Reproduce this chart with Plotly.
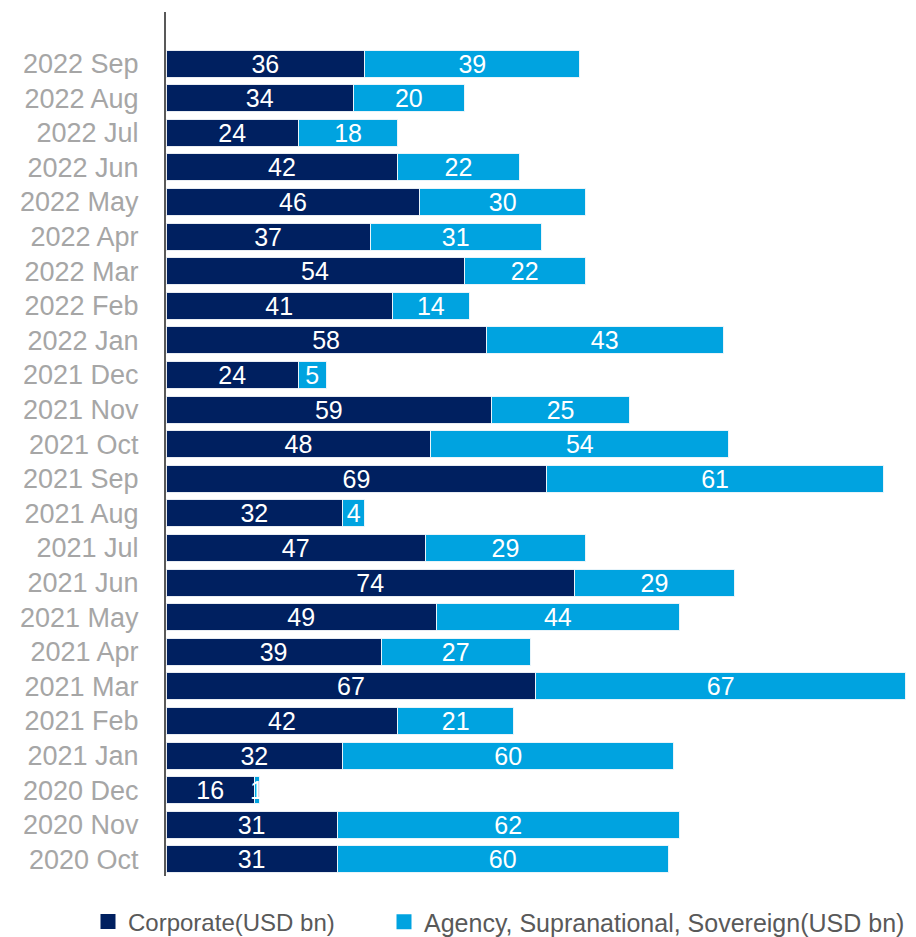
import plotly.graph_objects as go

months = ["2020 Oct", "2020 Nov", "2020 Dec", "2021 Jan", "2021 Feb", "2021 Mar",
          "2021 Apr", "2021 May", "2021 Jun", "2021 Jul", "2021 Aug", "2021 Sep",
          "2021 Oct", "2021 Nov", "2021 Dec", "2022 Jan", "2022 Feb", "2022 Mar",
          "2022 Apr", "2022 May", "2022 Jun", "2022 Jul", "2022 Aug", "2022 Sep"]
corporate = [31, 31, 16, 32, 42, 67, 39, 49, 74, 47, 32, 69,
             48, 59, 24, 58, 41, 54, 37, 46, 42, 24, 34, 36]
agency = [60, 62, 1, 60, 21, 67, 27, 44, 29, 29, 4, 61,
          54, 25, 5, 43, 14, 22, 31, 30, 22, 18, 20, 39]
series_names = ["Corporate(USD bn)", "Agency, Supranational, Sovereign(USD bn)"]

NAVY = "#002060"
BLUE = "#00A3E0"
FONT = "Liberation Sans, Arial, sans-serif"

fig = go.Figure()
for vals, name, color, edge in [(corporate, series_names[0], NAVY, "#e8ecf2"),
                                (agency, series_names[1], BLUE, "#e8f4fa")]:
    fig.add_trace(go.Bar(
        y=months, x=vals, orientation="h", name=name,
        marker=dict(color=color, line=dict(color=edge, width=1)),
        text=[str(v) for v in vals], textposition="inside", textangle=0,
        insidetextanchor="middle", constraintext="none",
        textfont=dict(color="white", size=25, family=FONT),
        hoverinfo="skip", showlegend=False,
    ))

# legend-only entries with larger square swatches
for name, color, leg in [(series_names[0], NAVY, "legend"),
                         (series_names[1], BLUE, "legend2")]:
    fig.add_trace(go.Scatter(
        x=[None], y=[None], mode="markers", name=name,
        marker=dict(symbol="square", size=15, color=color),
        hoverinfo="skip", legend=leg, showlegend=True,
    ))

fig.update_layout(
    width=916, height=937,
    barmode="stack", bargap=0.22,
    plot_bgcolor="white", paper_bgcolor="white",
    margin=dict(l=166, r=0, t=12, b=61, autoexpand=False),
    font=dict(family=FONT),
    showlegend=True,
    legend=dict(x=88 / 916, xref="container", xanchor="left",
                y=(937 - 922) / 937, yref="container", yanchor="middle",
                font=dict(size=24, color="#595959", family=FONT),
                itemwidth=30, bgcolor="rgba(0,0,0,0)", borderwidth=0),
    legend2=dict(x=384 / 916, xref="container", xanchor="left",
                 y=(937 - 922) / 937, yref="container", yanchor="middle",
                 font=dict(size=25, color="#595959", family=FONT),
                 itemwidth=30, bgcolor="rgba(0,0,0,0)", borderwidth=0),
)
fig.update_xaxes(range=[0, 135.9], showgrid=False, zeroline=False,
                 showticklabels=False, showline=False)
fig.update_yaxes(type="category", categoryorder="array", categoryarray=months,
                 range=[-0.48, 24.49], showgrid=False, showline=True,
                 linecolor="#595959", linewidth=2, ticks="",
                 tickfont=dict(size=27, color="#A6A6A6", family=FONT),
                 ticklabelstandoff=20)

fig.write_html("out.html")
